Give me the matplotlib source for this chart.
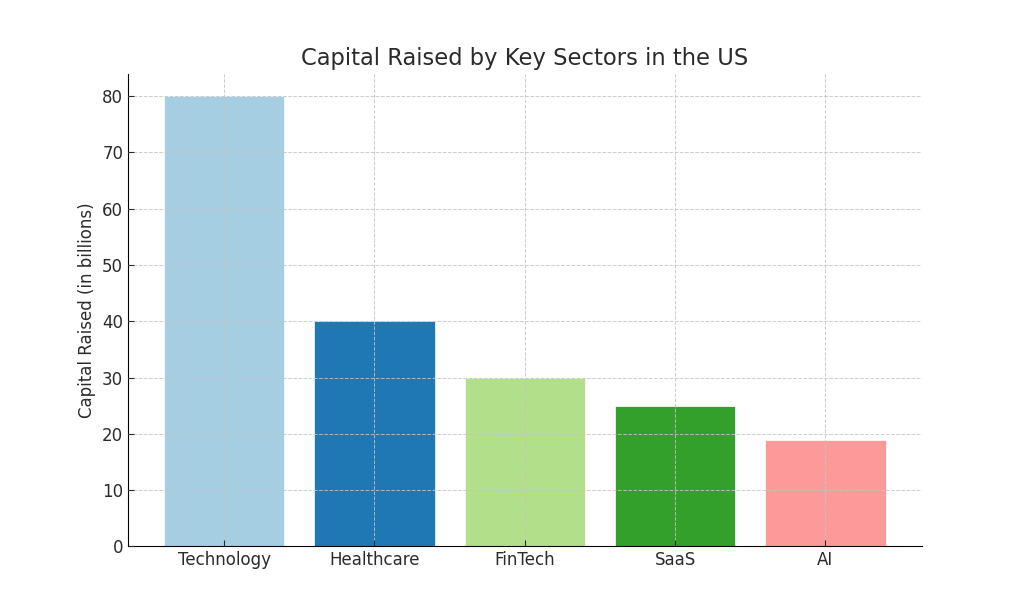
import matplotlib
matplotlib.use("Agg")
import matplotlib.pyplot as plt

sectors = ['Technology', 'Healthcare', 'FinTech', 'SaaS', 'AI']
capital = [80, 40, 30, 25, 19]
colors = ['#a6cee3', '#1f78b4', '#b2df8a', '#33a02c', '#fb9a99']

plt.rcParams['text.color'] = '#2b2b2b'
plt.rcParams['axes.labelcolor'] = '#2b2b2b'
plt.rcParams['xtick.color'] = '#2b2b2b'
plt.rcParams['ytick.color'] = '#2b2b2b'
plt.rcParams['xtick.direction'] = 'in'
plt.rcParams['ytick.direction'] = 'in'

fig, ax = plt.subplots(figsize=(10.24, 6.14), dpi=100)
ax.bar(sectors, capital, color=colors, edgecolor='white', linewidth=0.5)

ax.set_title('Capital Raised by Key Sectors in the US', fontsize=16.3)
ax.set_ylabel('Capital Raised (in billions)', fontsize=12)
ax.tick_params(labelsize=12, length=4, width=0.8)

# grid sits on top of the bars, like the reference
ax.set_axisbelow(False)
ax.grid(True, linestyle='--', linewidth=0.7, color='#c4c4c4', alpha=0.85)
ax.spines['top'].set_visible(False)
ax.spines['right'].set_visible(False)

plt.savefig('out.png', dpi=100)
